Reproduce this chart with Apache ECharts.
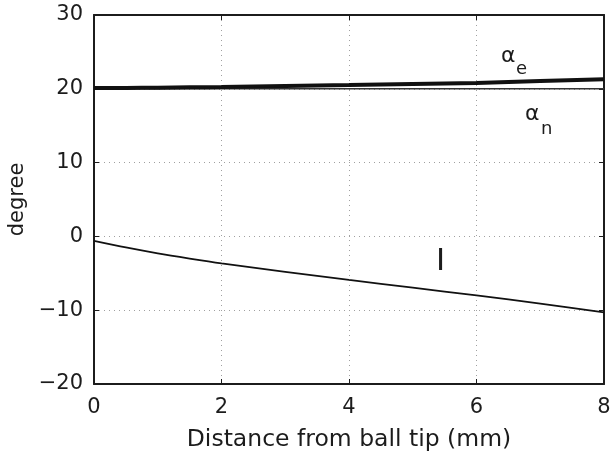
<!DOCTYPE html>
<html>
<head>
<meta charset="utf-8">
<title>angles vs distance</title>
<script src="https://cdn.jsdelivr.net/npm/echarts@6/dist/echarts.min.js"></script>
<style>
  html, body { margin: 0; padding: 0; background: #fff; }
  #chart { width: 610px; height: 454px; }
</style>
</head>
<body>
<div id="chart"></div>
<script>
// distance from ball tip (mm)
var xs = [0, 0.5, 1, 1.5, 2, 3, 4, 5, 6, 7, 8];
// alpha_e (thick line)
var alphaE = [20.1, 20.12, 20.15, 20.2, 20.25, 20.38, 20.5, 20.65, 20.8, 21.05, 21.3];
// alpha_n (thin line)
var alphaN = [20.0, 20.0, 20.0, 20.0, 20.0, 20.0, 20.0, 20.0, 20.0, 20.0, 20.0];
// i
var incl = [-0.6, -1.5, -2.3, -3.0, -3.65, -4.8, -5.9, -6.95, -8.0, -9.1, -10.3];

function pairs(v) {
  return xs.map(function (x, k) { return [x, v[k]]; });
}

var font = 'DejaVu Sans, sans-serif';
var ink = '#1c1c1c';
var chart = echarts.init(document.getElementById('chart'));
var dotted = { show: true, lineStyle: { color: '#a0a0a0', type: [1, 4], width: 1 } };
var ticks = { inside: true, length: 5, lineStyle: { color: ink, width: 1 } };
var edge = { onZero: false, lineStyle: { color: ink, width: 2 } };

function label(txt, x, y, size) {
  return { type: 'text', silent: true,
    style: { text: txt, x: x, y: y, fontFamily: font, fontSize: size, fill: ink,
             align: 'left', verticalAlign: 'middle' } };
}

chart.setOption({
  animation: false,
  grid: { left: 94, right: 6, top: 15, bottom: 70, outerBoundsMode: 'none', containLabel: false },
  xAxis: [{
    type: 'value', min: 0, max: 8, interval: 2,
    name: 'Distance from ball tip (mm)', nameLocation: 'middle', nameGap: 44,
    nameTextStyle: { fontFamily: font, fontSize: 23.5, color: ink },
    axisLine: edge, axisTick: ticks,
    axisLabel: { fontFamily: font, fontSize: 21, color: ink, margin: 13 },
    splitLine: dotted
  }, {
    type: 'value', position: 'top', min: 0, max: 8, interval: 2,
    axisLine: edge, axisTick: ticks, axisLabel: { show: false }, splitLine: { show: false }
  }],
  yAxis: [{
    type: 'value', min: -20, max: 30, interval: 10,
    name: 'degree', nameLocation: 'middle', nameGap: 66, nameRotate: 90,
    nameTextStyle: { fontFamily: font, fontSize: 21, color: ink },
    axisLine: edge, axisTick: ticks,
    axisLabel: { fontFamily: font, fontSize: 21, color: ink, margin: 11,
      formatter: function (v) { return String(v).replace('-', '\u2212'); } },
    splitLine: dotted
  }, {
    type: 'value', position: 'right', min: -20, max: 30, interval: 10,
    axisLine: edge, axisTick: ticks, axisLabel: { show: false }, splitLine: { show: false }
  }],
  graphic: [
    label('\u03b1', 501, 56, 22),
    label('e', 516, 69.5, 18),
    label('\u03b1', 525, 114, 22),
    label('n', 541, 129.5, 18),
    { type: 'text', silent: true,
      style: { text: 'I', x: 440.5, y: 261.5, fontFamily: font, fontSize: 31, fill: ink,
               align: 'center', verticalAlign: 'middle' } }
  ],
  series: [
    { type: 'line', data: pairs(alphaN), showSymbol: false,
      lineStyle: { color: '#333', width: 1.5 }, z: 2 },
    { type: 'line', data: pairs(alphaE), showSymbol: false, smooth: 0.3,
      lineStyle: { color: '#111', width: 4 }, z: 3 },
    { type: 'line', data: pairs(incl), showSymbol: false, smooth: 0.3,
      lineStyle: { color: '#111', width: 1.8 }, z: 3 }
  ]
});
</script>
</body>
</html>
